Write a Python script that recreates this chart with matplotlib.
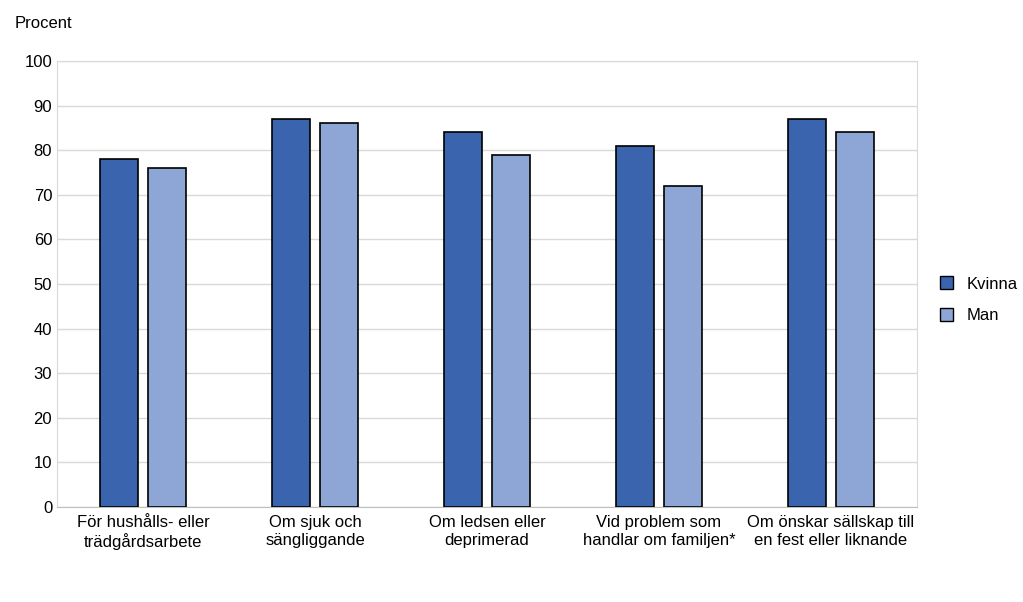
import numpy as np
import matplotlib.pyplot as plt
from matplotlib.patches import Patch

plt.rcParams['font.family'] = 'Liberation Sans'

categories = ['För hushålls- eller\nträdgårdsarbete', 'Om sjuk och\nsängliggande',
              'Om ledsen eller\ndeprimerad', 'Vid problem som\nhandlar om familjen*',
              'Om önskar sällskap till\nen fest eller liknande']
kvinna = [78, 87, 84, 81, 87]
man = [76, 86, 79, 72, 84]

fig = plt.figure(figsize=(10.23, 6.02), dpi=100)
ax = fig.add_axes([57 / 1023, 95 / 602, 860 / 1023, 446 / 602])

x = np.arange(len(categories))
w = 0.221
ax.bar(x - 0.142, kvinna, w, color='#3A64AD', edgecolor='black', linewidth=1.2, zorder=3)
ax.bar(x + 0.142, man, w, color='#8EA6D6', edgecolor='black', linewidth=1.2, zorder=3)

ax.set_xlim(-0.5, len(categories) - 0.5)
ax.set_ylim(0, 100)
ax.set_yticks(range(0, 101, 10))
ax.set_xticks(x)
ax.set_xticklabels(categories, fontsize=12)
ax.tick_params(axis='y', labelsize=12, length=0)
ax.tick_params(axis='x', length=0, pad=6)
ax.grid(axis='y', color='#D9D9D9', linewidth=1, zorder=0)
for s in ax.spines.values():
    s.set_color('#D9D9D9')
ax.spines['bottom'].set_color('#BFBFBF')

fig.text(15 / 1023, 1 - 24 / 602, 'Procent', fontsize=12, va='center')

handles = [Patch(facecolor='#3A64AD', edgecolor='black'), Patch(facecolor='#8EA6D6', edgecolor='black')]
fig.legend(handles, ['Kvinna', 'Man'], loc='center left', bbox_to_anchor=(925 / 1023, 1 - 300 / 602),
           frameon=False, fontsize=12, handlelength=0.8, handleheight=0.8, labelspacing=1.0)

fig.savefig('out.png', dpi=100)
